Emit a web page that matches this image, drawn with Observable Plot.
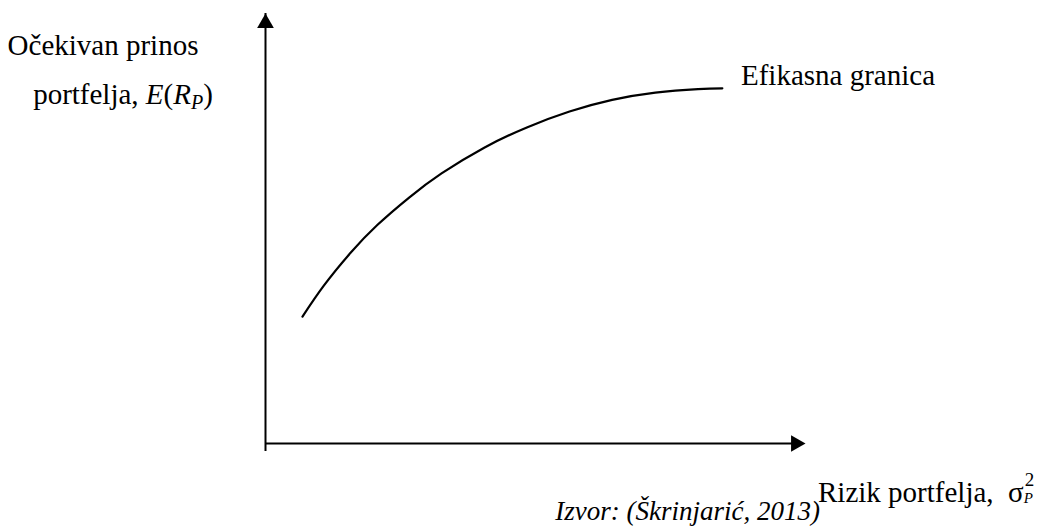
<!DOCTYPE html>
<html>
<head>
<meta charset="utf-8">
<script src="https://cdn.jsdelivr.net/npm/d3@7"></script>
<script src="https://cdn.jsdelivr.net/npm/@observablehq/plot@0.6"></script>
<style>
  html, body { margin: 0; padding: 0; background: #fff; }
  #wrap { position: relative; width: 1050px; height: 528px; overflow: hidden; color: #000; }
  #wrap svg { position: absolute; left: 0; top: 0; }
  .lbl { position: absolute; white-space: nowrap; font-size: 29px; line-height: 29px;
         font-family: "Liberation Serif", "Times New Roman", serif; }
  .it { font-style: italic; }
  .small { font-size: 27px; }
  sub.p { font-size: 20px; font-style: italic; vertical-align: -5px; line-height: 0; }
  .stack { display: inline-block; position: relative; width: 14px; height: 10px; }
  .stack .sup { position: absolute; left: 1px; top: -22px; font-size: 19px; line-height: 19px; }
  .stack .sub { position: absolute; left: 0px; top: -1px; font-size: 15px; line-height: 15px; font-style: italic; }
</style>
</head>
<body>
<div id="wrap"></div>
<script>
// Efficient frontier curve (risk, expected return), in axis units 0–100
const riskValues   = [6.85, 10.8, 15.8, 20.7, 26.6, 32.6, 40.5, 48.4, 56.3, 64.2, 72.2, 80.1, 84.6];
const returnValues = [29.5, 36.7, 44.4, 50.8, 57.2, 62.8, 68.8, 73.5, 77.2, 79.9, 81.6, 82.4, 82.6];
// Axis extents
const axisOrigin = [0];
const axisEnd = [100];

const curve = riskValues.map((x, i) => ({x, y: returnValues[i]}));

const chart = Plot.plot({
  width: 1050, height: 528,
  marginLeft: 265, marginRight: 245, marginTop: 13, marginBottom: 85,
  x: {domain: [0, 100], axis: null},
  y: {domain: [0, 100], axis: null},
  marks: [
    Plot.ruleX(axisOrigin, {x: d => d, y1: 0, y2: axisEnd[0], stroke: "#000", strokeWidth: 2, insetTop: 8}),
    Plot.ruleY(axisOrigin, {y: d => d, x1: 0, x2: axisEnd[0], stroke: "#000", strokeWidth: 2, insetRight: 8}),
    Plot.dot(axisEnd, {x: 0, y: d => d, symbol: "triangle", r: 6.2, fill: "#000", stroke: null, dy: 9.6}),
    Plot.dot(axisEnd, {x: d => d, y: 0, symbol: "triangle", r: 6.2, fill: "#000", stroke: null, dx: -9.6, rotate: 90}),
    Plot.line(curve, {x: "x", y: "y", curve: "natural", stroke: "#000", strokeWidth: 2.2})
  ]
});

const wrap = document.getElementById("wrap");
wrap.appendChild(chart);

function addLabel(html, left, baseline, extraClass, align, fs = 29) {
  const d = document.createElement("div");
  d.className = "lbl" + (extraClass ? " " + extraClass : "");
  d.innerHTML = html;
  d.style.top = (baseline - 0.8375 * fs) + "px";
  if (align === "center") {
    d.style.left = (left - 300) + "px"; d.style.width = "600px"; d.style.textAlign = "center";
  } else if (align === "right") {
    d.style.left = (left - 600) + "px"; d.style.width = "600px"; d.style.textAlign = "right";
  } else {
    d.style.left = left + "px";
  }
  wrap.appendChild(d);
}

addLabel("Očekivan prinos", 103, 55, null, "center");
addLabel('portfelja, <span class="it">E</span>(<span class="it">R</span><sub class="p">P</sub>)', 123, 104, null, "center");
addLabel("Efikasna granica", 741, 85);
addLabel('Rizik portfelja,&nbsp; σ<span class="stack"><span class="sup">2</span><span class="sub">P</span></span>', 818, 502);
addLabel("Izvor: (Škrinjarić, 2013)", 820, 520, "it small", "right", 27);
</script>
</body>
</html>
